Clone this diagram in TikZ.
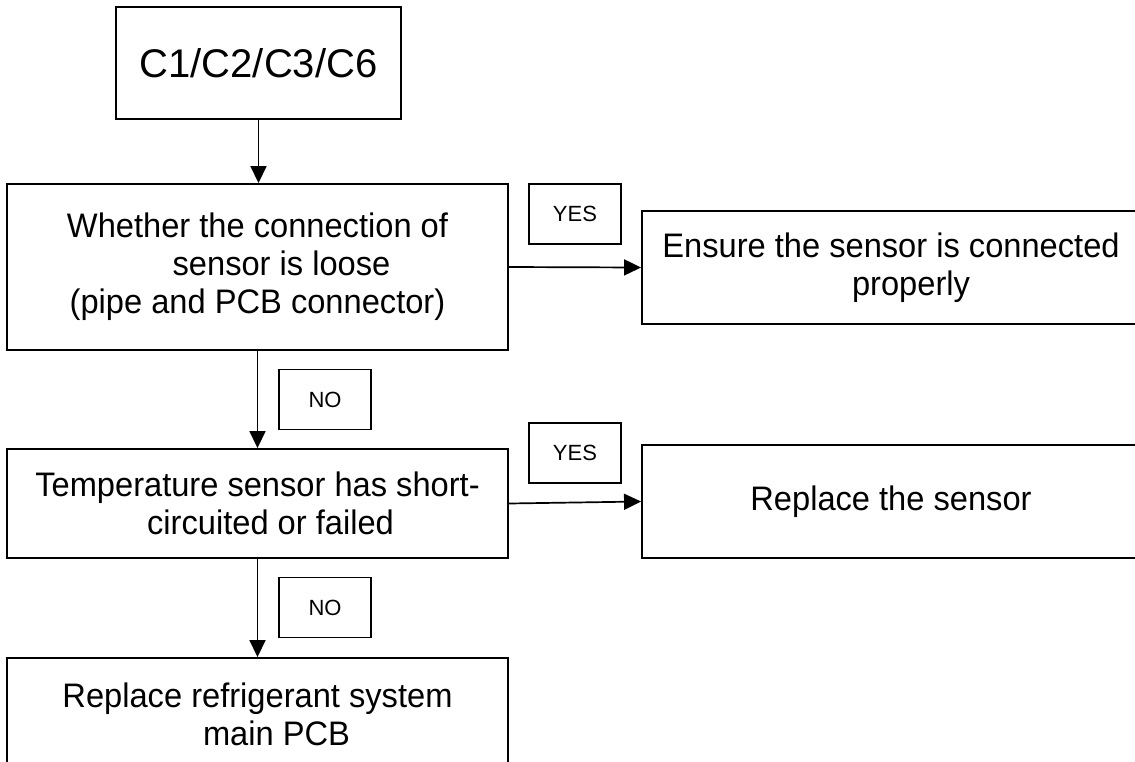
\documentclass[tikz,border=0pt]{standalone}
\usepackage{fontspec}
\setmainfont{Liberation Sans}
\newfontfamily\bodyfont{Liberation Sans}[FakeStretch=0.96]
\usetikzlibrary{arrows.meta}
\begin{document}
\begin{tikzpicture}[x=1pt,y=-1pt,
  box/.style={draw, line width=1.9pt, inner sep=0pt, align=center,
    font=\bodyfont\fontsize{34}{38}\selectfont},
  tag/.style={draw, line width=1.5pt, minimum width=92pt, minimum height=60pt,
    inner sep=0pt, font=\fontsize{22}{26}\selectfont},
  flow/.style={line width=1.7pt, -{Triangle[length=17pt,width=16pt]}}]
\useasboundingbox (0,0) rectangle (1135,761);
% main boxes
\node[box, minimum width=285pt, minimum height=112pt,
      font=\fontsize{40}{44}\selectfont] (c) at (258.5,63) {C1/C2/C3/C6};
\node[box, minimum width=501pt, minimum height=166pt] (w) at (257.5,267)
  {Whether the connection of\\\hspace*{48pt}sensor is loose\\(pipe and PCB connector)};
\node[box, minimum width=498pt, minimum height=113pt] (e) at (891,267.5)
  {Ensure the sensor is connected\\\hspace*{40pt}properly};
\node[box, minimum width=501pt, minimum height=109pt] (t) at (257.5,503.5)
  {Temperature sensor has short-\\\hspace*{26pt}circuited or failed};
\node[box, minimum width=498pt, minimum height=113pt] (r) at (891,501.5)
  {Replace the sensor};
\node[box, minimum width=501pt, minimum height=112pt] (p) at (257.5,714)
  {Replace refrigerant system\\\hspace*{38pt}main PCB};
% labels
\node[tag] (y1) at (575,214) {YES};
\node[tag] (y2) at (575,453) {YES};
\node[tag] (n1) at (325,399.5) {NO};
\node[tag] (n2) at (325,607.5) {NO};
% connectors
\draw[flow] (c.south) -- (c.south |- w.north);
\draw[flow] (w.east) -- (e.west);
\draw[flow] (w.south) -- (t.north);
\draw[flow] (t.east) -- (r.west);
\draw[flow] (t.south) -- (p.north);
\end{tikzpicture}
\end{document}
